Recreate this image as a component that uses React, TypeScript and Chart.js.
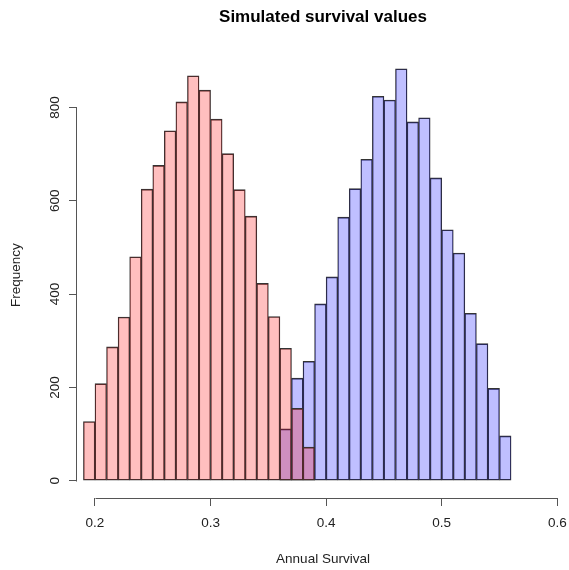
import { useEffect, useRef } from "react";
import { Chart, registerables } from "chart.js";

Chart.register(...registerables);

// Histogram bins (left edges) and counts for the two simulated groups
const redBinStarts = [
  0.19, 0.2, 0.21, 0.22, 0.23, 0.24, 0.25, 0.26, 0.27, 0.28,
  0.29, 0.3, 0.31, 0.32, 0.33, 0.34, 0.35, 0.36, 0.37, 0.38,
];
const redCounts = [
  127, 208, 287, 351, 480, 625, 676, 750, 812, 868,
  837, 775, 701, 624, 567, 423, 352, 284, 155, 72,
];
const blueBinStarts = [
  0.36, 0.37, 0.38, 0.39, 0.4, 0.41, 0.42, 0.43, 0.44, 0.45,
  0.46, 0.47, 0.48, 0.49, 0.5, 0.51, 0.52, 0.53, 0.54, 0.55,
];
const blueCounts = [
  111, 220, 256, 379, 437, 565, 626, 689, 824, 816,
  883, 769, 778, 649, 538, 488, 359, 294, 198, 96,
];
const binWidth = 0.01;

const xTickValues = [0.2, 0.3, 0.4, 0.5, 0.6];
const yTickValues = [0, 200, 400, 600, 800];

const chartTitle = "Simulated survival values";
const xTitle = "Annual Survival";
const yTitle = "Frequency";

const FONT = "'Liberation Sans', Arial, Helvetica, sans-serif";
const AXIS_COLOR = "#555";
const TEXT_COLOR = "#222";
const BAR_BORDER = "#333";

// R-style axis lines that only run from the first to the last tick
const rAxisLines = {
  id: "rAxisLines",
  afterDraw(chart: any) {
    const { ctx } = chart;
    const x = chart.scales.x;
    const y = chart.scales.y;
    ctx.save();
    ctx.strokeStyle = AXIS_COLOR;
    ctx.lineWidth = 1;

    const xs = x.ticks;
    const x0 = Math.round(x.getPixelForValue(xs[0].value)) + 0.5;
    const x1 = Math.round(x.getPixelForValue(xs[xs.length - 1].value)) + 0.5;
    const yLine = Math.round(x.top) + 0.5;
    ctx.beginPath();
    ctx.moveTo(x0, yLine);
    ctx.lineTo(x1, yLine);
    ctx.stroke();

    const ys = y.ticks;
    const y0 = Math.round(y.getPixelForValue(ys[0].value)) + 0.5;
    const y1 = Math.round(y.getPixelForValue(ys[ys.length - 1].value)) + 0.5;
    const xLine = Math.round(y.right) - 0.5;
    ctx.beginPath();
    ctx.moveTo(xLine, y0);
    ctx.lineTo(xLine, y1);
    ctx.stroke();
    ctx.restore();
  },
};

function binPoints(starts: number[], counts: number[]) {
  return starts.map((s, i) => ({ x: s + binWidth / 2, y: counts[i] }));
}

// Neighbouring bars share an edge, so each side carries part of the outline
const barBorderWidth = { top: 1, bottom: 1, left: 0.7, right: 0.7 };

export default function App() {
  const canvasRef = useRef<HTMLCanvasElement | null>(null);

  useEffect(() => {
    if (!canvasRef.current) return;
    const chart = new Chart(canvasRef.current, {
      type: "bar",
      data: {
        datasets: [
          {
            label: "red",
            data: binPoints(redBinStarts, redCounts),
            backgroundColor: "rgba(255, 0, 0, 0.25)",
            borderColor: BAR_BORDER,
            borderWidth: barBorderWidth as any,
            borderSkipped: false,
            barPercentage: 1,
            categoryPercentage: 1,
            grouped: false,
            order: 1,
          },
          {
            label: "blue",
            data: binPoints(blueBinStarts, blueCounts),
            backgroundColor: "rgba(0, 0, 255, 0.25)",
            borderColor: BAR_BORDER,
            borderWidth: barBorderWidth as any,
            borderSkipped: false,
            barPercentage: 1,
            categoryPercentage: 1,
            grouped: false,
            order: 2,
          },
        ],
      },
      options: {
        responsive: false,
        animation: false,
        layout: { padding: 0 },
        plugins: {
          legend: { display: false },
          tooltip: { enabled: false },
          title: {
            display: true,
            text: chartTitle,
            fullSize: false,
            color: "#000",
            font: { family: FONT, size: 17, weight: "bold" },
            padding: { top: 7, bottom: 25 },
          },
        },
        scales: {
          x: {
            type: "linear",
            min: 0.18443,
            max: 0.61013,
            offset: false,
            afterBuildTicks: (s: any) => {
              s.ticks = xTickValues.map((v) => ({ value: v }));
            },
            afterFit: (s: any) => {
              s.height = 72;
              s.paddingLeft = 0;
              s.paddingRight = 0;
            },
            grid: {
              offset: false,
              drawOnChartArea: false,
              drawTicks: true,
              tickLength: 8,
              color: AXIS_COLOR,
              lineWidth: 1,
            },
            border: { display: false },
            ticks: {
              minRotation: 0,
              maxRotation: 0,
              autoSkip: false,
              padding: 9,
              color: TEXT_COLOR,
              font: { family: FONT, size: 13.5 },
              callback: (v: any) => String(v),
            },
            title: {
              display: true,
              text: xTitle,
              color: TEXT_COLOR,
              font: { family: FONT, size: 13.5 },
              padding: { top: 0, bottom: 3 },
            },
          },
          y: {
            type: "linear",
            min: -37,
            max: 918,
            afterBuildTicks: (s: any) => {
              s.ticks = yTickValues.map((v) => ({ value: v }));
            },
            afterFit: (s: any) => {
              s.width = 77;
              s.paddingTop = 0;
              s.paddingBottom = 0;
            },
            grid: {
              drawOnChartArea: false,
              drawTicks: true,
              tickLength: 8,
              color: AXIS_COLOR,
              lineWidth: 1,
            },
            border: { display: false },
            ticks: {
              minRotation: 90,
              maxRotation: 90,
              crossAlign: "center",
              autoSkip: false,
              padding: 2,
              color: TEXT_COLOR,
              font: { family: FONT, size: 13.5 },
              callback: (v: any) => String(v),
            },
            title: {
              display: true,
              text: yTitle,
              color: TEXT_COLOR,
              font: { family: FONT, size: 13.5 },
              padding: { top: 8, bottom: 0 },
            },
          },
        },
      },
      plugins: [rAxisLines],
    });
    return () => chart.destroy();
  }, []);

  return (
    <div
      style={{
        position: "fixed",
        left: 0,
        top: 0,
        width: 569,
        height: 570,
        background: "#fff",
      }}
    >
      <canvas
        ref={canvasRef}
        width={569}
        height={570}
        style={{ display: "block", width: 569, height: 570 }}
      />
    </div>
  );
}
